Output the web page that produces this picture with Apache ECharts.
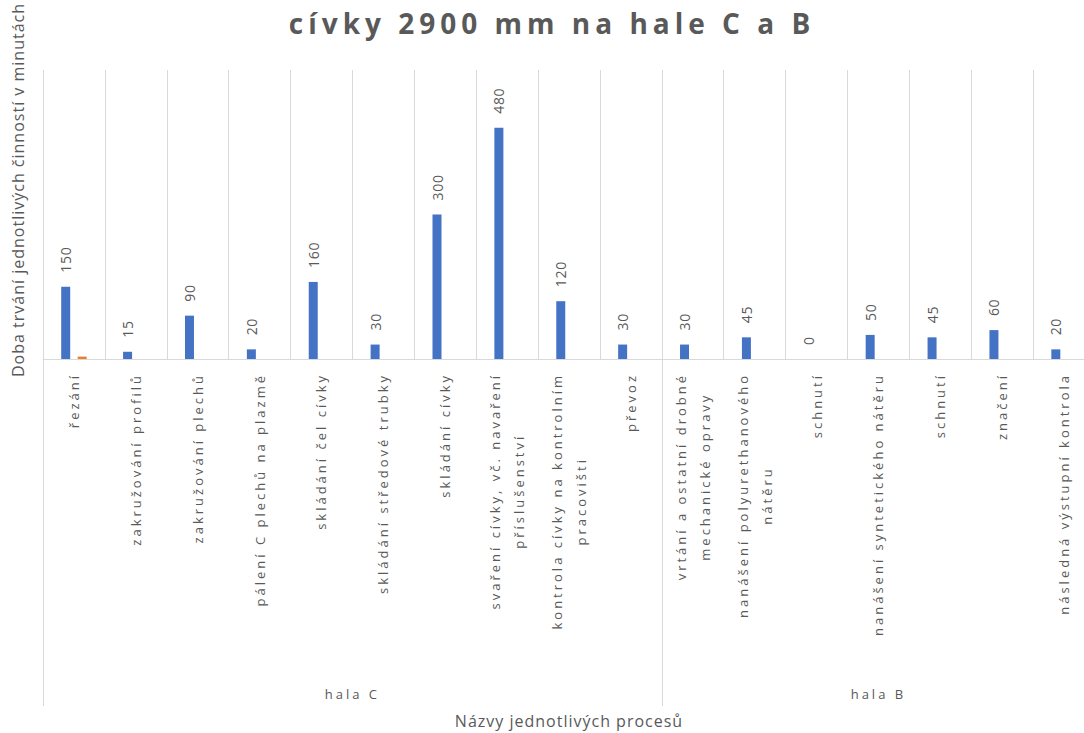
<!DOCTYPE html>
<html>
<head>
<meta charset="utf-8">
<script src="https://cdn.jsdelivr.net/npm/echarts@6/dist/echarts.min.js"></script>
<style>
html, body { margin: 0; padding: 0; background: #ffffff; }
#chart { width: 1084px; height: 733px; }
#chart text[style*="13px"] { letter-spacing: 3px; }
#chart text[style*="14px"] { letter-spacing: 0.7px; }
#chart text[style*="16px"] { letter-spacing: 1px; }
#chart text[style*="28px"] { letter-spacing: 5px; }
</style>
</head>
<body>
<div id="chart"></div>
<script>
// ---- data ----
const categories = [
  'řezání',
  'zakružování profilů',
  'zakružování plechů',
  'pálení C plechů na plazmě',
  'skládání čel cívky',
  'skládání středové trubky',
  'skládání cívky',
  'svaření cívky, vč. navaření\npříslušenství',
  'kontrola cívky na kontrolním\npracovišti',
  'převoz',
  'vrtání a ostatní drobné\nmechanické opravy',
  'nanášení polyurethanového\nnátěru',
  'schnutí',
  'nanášení syntetického nátěru',
  'schnutí',
  'značení',
  'následná výstupní kontrola'
];
const durations = [150, 15, 90, 20, 160, 30, 300, 480, 120, 30, 30, 45, 0, 50, 45, 60, 20];
const secondSeries = [5, null, null, null, null, null, null, null, null, null, null, null, null, null, null, null, null];
const groupNames = ['hala C', 'hala B'];
const groupCounts = [10, 7];
const titleText = 'cívky 2900 mm na hale C a B';
const yTitleText = 'Doba trvání jednotlivých činností v minutách';
const xTitleText = 'Názvy jednotlivých procesů';

// ---- derived group geometry (in category units) ----
const groupBounds = [0];
groupCounts.forEach(c => groupBounds.push(groupBounds[groupBounds.length - 1] + c));
const groupCenters = groupCounts.map((c, i) => groupBounds[i] + c / 2);

// letter spacing used for some text sizes (matches CSS above)
const spacing = { 13: 3, 14: 0.7, 16: 1, 28: 5 };
const mctx = document.createElement('canvas').getContext('2d');
if (echarts.setPlatformAPI) {
  echarts.setPlatformAPI({
    measureText: function (text, font) {
      const f = font || '12px sans-serif';
      mctx.font = f;
      const m = mctx.measureText(text);
      const px = /(\d+(?:\.\d+)?)px/.exec(f);
      const sp = px ? (spacing[Math.round(+px[1])] || 0) : 0;
      return {
        width: m.width + sp * Array.from(String(text)).length,
        actualBoundingBoxAscent: m.actualBoundingBoxAscent,
        actualBoundingBoxDescent: m.actualBoundingBoxDescent,
        actualBoundingBoxLeft: m.actualBoundingBoxLeft,
        actualBoundingBoxRight: m.actualBoundingBoxRight,
        fontBoundingBoxAscent: m.fontBoundingBoxAscent,
        fontBoundingBoxDescent: m.fontBoundingBoxDescent
      };
    }
  });
}

const FONT = 'Open Sans';
const TXT = '#595959';
const GRID = '#D9D9D9';

const chart = echarts.init(document.getElementById('chart'), null, { renderer: 'svg' });
chart.setOption({
  animation: false,
  backgroundColor: '#ffffff',
  grid: { left: 43, top: 70, right: -11, height: 289, outerBoundsMode: 'none', containLabel: false },
  xAxis: [
    {
      type: 'category',
      data: categories,
      axisLine: { show: true, lineStyle: { color: GRID, width: 1 } },
      axisTick: { show: false },
      splitLine: { show: true, lineStyle: { color: GRID, width: 1 } },
      axisLabel: {
        interval: 0,
        rotate: 90,
        margin: 14,
        fontSize: 13,
        fontFamily: FONT,
        color: TXT,
        formatter: v => v.split('\n').map(l => '{c|' + l + '}').join('\n'),
        rich: { c: { align: 'center', fontSize: 13, lineHeight: 24, fontFamily: FONT, color: TXT } }
      }
    },
    {
      type: 'value',
      min: 0,
      max: categories.length,
      position: 'bottom',
      axisLine: { show: false },
      splitLine: { show: false },
      axisTick: { show: true, customValues: groupBounds, length: 347, lineStyle: { color: GRID, width: 1 } },
      axisLabel: {
        show: true,
        customValues: groupCenters,
        margin: 327,
        fontSize: 13,
        fontFamily: FONT,
        color: TXT,
        formatter: v => {
          const i = groupCenters.indexOf(v);
          return i >= 0 ? groupNames[i] : '';
        }
      }
    }
  ],
  yAxis: { type: 'value', min: 0, max: 600, show: false },
  series: [
    {
      type: 'bar',
      data: durations,
      barWidth: 9,
      barGap: '83%',
      itemStyle: { color: '#4472C4' },
      label: {
        show: true,
        position: 'top',
        rotate: 90,
        align: 'left',
        verticalAlign: 'middle',
        distance: 14,
        fontSize: 14,
        fontFamily: FONT,
        color: TXT
      }
    },
    {
      type: 'bar',
      data: secondSeries,
      barWidth: 9,
      itemStyle: { color: '#ED7D31' }
    }
  ],
  graphic: [
    {
      type: 'text', x: 552, y: 23,
      style: { text: titleText, fontSize: 28, fontWeight: 'bold', fontFamily: FONT, fill: TXT, align: 'center', verticalAlign: 'middle' }
    },
    {
      type: 'text', x: 18, y: 190, rotation: Math.PI / 2,
      style: { text: yTitleText, fontSize: 16, fontFamily: FONT, fill: TXT, align: 'center', verticalAlign: 'middle' }
    },
    {
      type: 'text', x: 569, y: 721,
      style: { text: xTitleText, fontSize: 16, fontFamily: FONT, fill: TXT, align: 'center', verticalAlign: 'middle' }
    }
  ]
});
</script>
</body>
</html>
